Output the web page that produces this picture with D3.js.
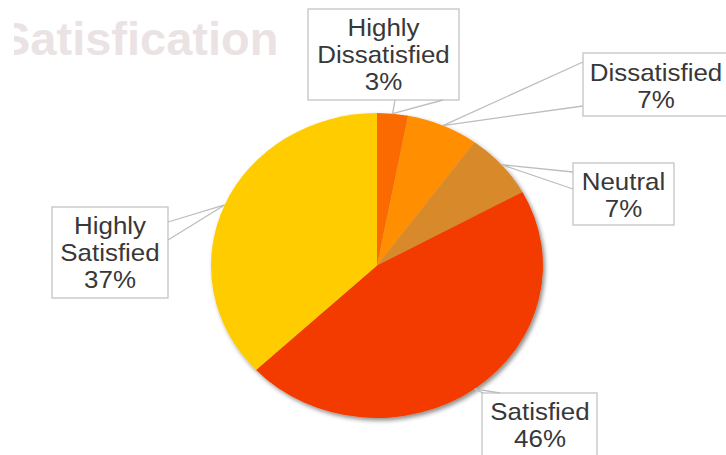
<!DOCTYPE html>
<html><head><meta charset="utf-8">
<script src="https://cdn.jsdelivr.net/npm/d3@7"></script>
<style>html,body{margin:0;padding:0;background:#fff;}svg{display:block;}</style>
</head><body>
<svg id="chart" width="726" height="455"></svg>
<script>
// ---- data ----
const categories = ["Highly Dissatisfied", "Dissatisfied", "Neutral", "Satisfied", "Highly Satisfied"];
const values = [3, 7, 7, 46, 37];
const labelLines = [["Highly", "Dissatisfied", "3%"], ["Dissatisfied", "7%"], ["Neutral", "7%"], ["Satisfied", "46%"], ["Highly", "Satisfied", "37%"]];
const colors = ["#fa6a06", "#ff8f00", "#d8892c", "#f33b06", "#ffcc00"];
const titleText = "Satisfication";

// ---- layout ----
const cx = 377, cy = 265.5, ry = 152.5, rx = 166;
const boxes = [
  {x: 308, y: 9,   w: 151, h: 91, cxT: 383.5, base: 36, p1: [395, 100], p2: [443, 100]},
  {x: 583, y: 53,  w: 160, h: 63, cxT: 656,   base: 81, p1: [583, 62],  p2: [583, 106]},
  {x: 573, y: 163, w: 101, h: 62, cxT: 623.5, base: 190, p1: [573, 172], p2: [573, 189]},
  {x: 482, y: 393, w: 115, h: 80, cxT: 540,   base: 420, p1: [483, 393], p2: [500, 393]},
  {x: 52,  y: 207, w: 116, h: 91, cxT: 110,   base: 234, p1: [168, 222], p2: [168, 240]}
];
const lineH = 27;

const svg = d3.select("#chart");
const defs = svg.append("defs");
const f = defs.append("filter").attr("id", "sh").attr("x", "-10%").attr("y", "-10%").attr("width", "130%").attr("height", "130%");
f.append("feDropShadow").attr("dx", 2).attr("dy", 2.5).attr("stdDeviation", 2).attr("flood-color", "#000").attr("flood-opacity", 0.45);
const clip = defs.append("clipPath").attr("id", "tclip");
clip.append("rect").attr("x", 14).attr("y", 0).attr("width", 400).attr("height", 80);

// title
svg.append("text").attr("x", -1).attr("y", 55)
  .attr("clip-path", "url(#tclip)")
  .attr("font-family", "Liberation Sans, Arial, sans-serif")
  .attr("font-weight", "bold").attr("font-size", 47)
  .attr("fill", "#ebe3e3").text(titleText);

// pie
const pie = d3.pie().sort(null).value(d => d);
const arcs = pie(values);
const arc = d3.arc().innerRadius(0).outerRadius(ry);
const edge = d3.arc().innerRadius(ry).outerRadius(ry);
const g = svg.append("g").attr("filter", "url(#sh)")
  .append("g").attr("transform", `translate(${cx},${cy}) scale(${rx / ry},1)`);
g.selectAll("path").data(arcs).join("path")
  .attr("d", arc).attr("fill", (d, i) => colors[i]);

// labels
const lg = svg.append("g");
arcs.forEach((a, i) => {
  const b = boxes[i];
  const c = edge.centroid(a);
  const ax = cx + c[0] * rx / ry, ay = cy + c[1];
  lg.append("rect").attr("x", b.x).attr("y", b.y).attr("width", b.w).attr("height", b.h)
    .attr("fill", "#fff").attr("stroke", "#c4c4c4").attr("stroke-width", 1.3);
  lg.append("path").attr("d", `M${b.p1[0]},${b.p1[1]}L${ax},${ay}L${b.p2[0]},${b.p2[1]}`)
    .attr("fill", "none").attr("stroke", "#bdbdbd").attr("stroke-width", 1.3);
  labelLines[i].forEach((t, j) => {
    const y = b.base + j * lineH;
    lg.append("text")
      .attr("transform", `translate(${b.cxT},${y}) scale(1.08,1)`)
      .attr("text-anchor", "middle")
      .attr("font-family", "Liberation Sans, Arial, sans-serif")
      .attr("font-size", 24).attr("fill", "#383838").text(t);
  });
});
</script>
</body></html>
